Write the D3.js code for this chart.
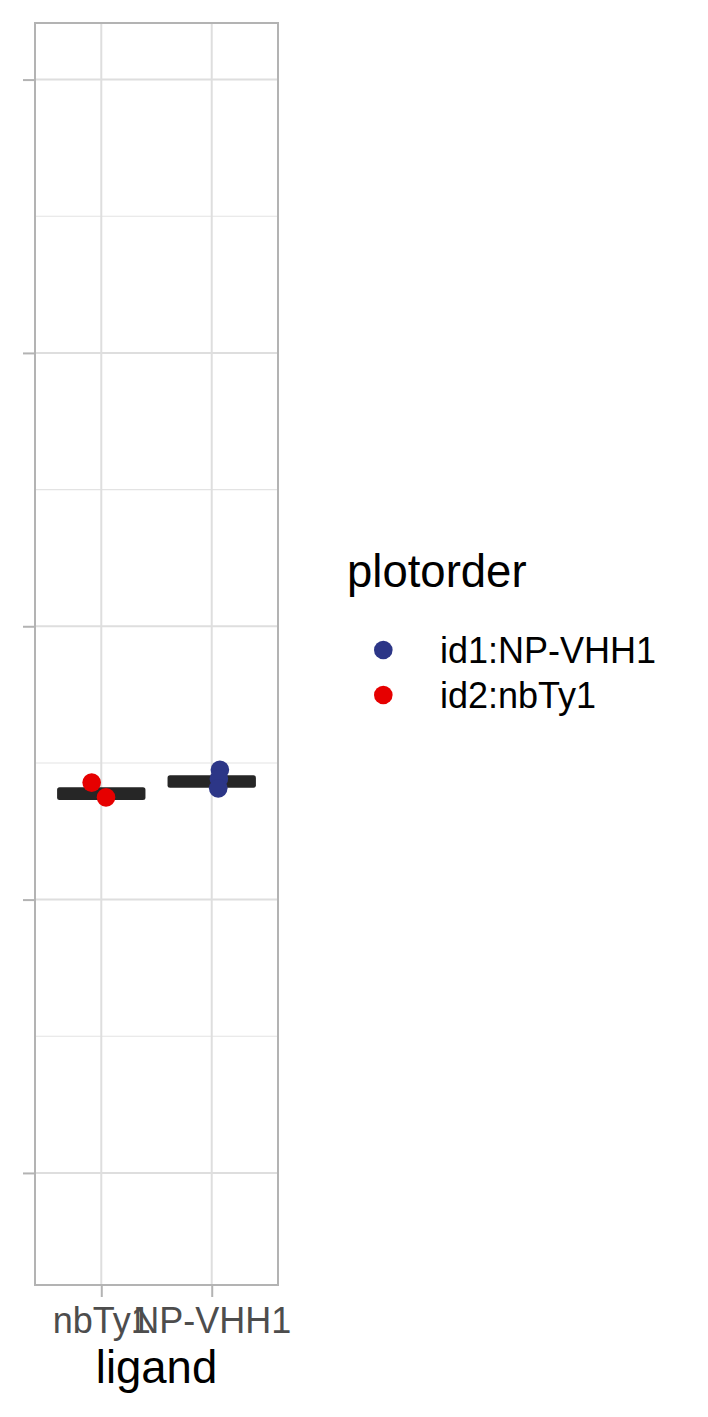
<!DOCTYPE html>
<html>
  <head>
    <meta charset="utf-8">
    <script src="https://d3js.org/d3.v7.min.js"></script>
    <style>
      body { margin: 0; background: #fff; }
      text { font-family: "Liberation Sans", Arial, sans-serif; }
    </style>
  </head>
  <body>
    <script type="text/javascript">
      // categories on the x axis
      var ligands = ["nbTy1", "NP-VHH1"];
      // summary value (bar) per ligand
      var barValues = [-0.612, -0.568];
      // individual points: ligand, jitter offset (in category steps), value, group
      var pointLigand = ["nbTy1", "nbTy1", "NP-VHH1", "NP-VHH1", "NP-VHH1"];
      var pointJitter = [-0.087, 0.043, 0.074, 0.065, 0.059];
      var pointValue = [-0.572, -0.626, -0.525, -0.558, -0.593];
      var pointGroup = ["id2:nbTy1", "id2:nbTy1", "id1:NP-VHH1", "id1:NP-VHH1", "id1:NP-VHH1"];
      // legend entries
      var groups = ["id1:NP-VHH1", "id2:nbTy1"];
      var groupColors = ["#2C3687", "#E60000"];
      // y ticks (labels are hidden in the original)
      var yTicks = [-2, -1, 0, 1, 2];
      var yMinor = [-1.5, -0.5, 0.5, 1.5];

      var W = 708, H = 1417;
      var panel = {left: 35, right: 278, top: 23, bottom: 1285};

      var svg = d3.select("body").append("svg")
          .attr("width", W)
          .attr("height", H);

      var x = d3.scalePoint()
          .domain(ligands)
          .range([panel.left, panel.right])
          .padding(0.6);
      var step = x.step();

      var y = d3.scaleLinear()
          .domain([-2.41, 2.207])
          .range([panel.bottom, panel.top]);

      var color = d3.scaleOrdinal().domain(groups).range(groupColors);

      // grid
      var grid = svg.append("g");
      grid.selectAll(".minor")
          .data(yMinor)
          .enter().append("line")
          .attr("x1", panel.left).attr("x2", panel.right)
          .attr("y1", function (d) { return y(d); })
          .attr("y2", function (d) { return y(d); })
          .attr("stroke", "#e3e3e3")
          .attr("stroke-width", 1.1);
      grid.selectAll(".major")
          .data(yTicks)
          .enter().append("line")
          .attr("x1", panel.left).attr("x2", panel.right)
          .attr("y1", function (d) { return y(d); })
          .attr("y2", function (d) { return y(d); })
          .attr("stroke", "#dedede")
          .attr("stroke-width", 2);
      grid.selectAll(".vmajor")
          .data(ligands)
          .enter().append("line")
          .attr("y1", panel.top).attr("y2", panel.bottom)
          .attr("x1", function (d) { return x(d); })
          .attr("x2", function (d) { return x(d); })
          .attr("stroke", "#dedede")
          .attr("stroke-width", 2);

      // summary bars
      var barH = 12.7;
      svg.selectAll(".bar")
          .data(ligands)
          .enter().append("rect")
          .attr("x", function (d) { return x(d) - step * 0.4; })
          .attr("width", step * 0.8)
          .attr("y", function (d, i) { return y(barValues[i]) - barH / 2; })
          .attr("height", barH)
          .attr("rx", 2.5)
          .attr("fill", "#262626");

      // points
      svg.selectAll(".pt")
          .data(pointValue)
          .enter().append("circle")
          .attr("cx", function (d, i) { return x(pointLigand[i]) + pointJitter[i] * step; })
          .attr("cy", function (d) { return y(d); })
          .attr("r", 9.3)
          .attr("fill", function (d, i) { return color(pointGroup[i]); });

      // panel border
      svg.append("rect")
          .attr("x", panel.left).attr("y", panel.top)
          .attr("width", panel.right - panel.left)
          .attr("height", panel.bottom - panel.top)
          .attr("fill", "none")
          .attr("stroke", "#b3b3b3")
          .attr("stroke-width", 2);

      // y axis: ticks only
      var yAxis = svg.append("g")
          .attr("transform", "translate(" + panel.left + ",0)")
          .call(d3.axisLeft(y).tickValues(yTicks).tickSize(12).tickFormat(""));
      yAxis.select(".domain").remove();
      yAxis.selectAll("line").attr("stroke", "#b3b3b3").attr("stroke-width", 2);

      // x axis
      var xAxis = svg.append("g")
          .attr("transform", "translate(0," + panel.bottom + ")")
          .call(d3.axisBottom(x).tickSize(12).tickPadding(15));
      xAxis.select(".domain").remove();
      xAxis.selectAll("line").attr("stroke", "#b3b3b3").attr("stroke-width", 2);
      xAxis.selectAll("text")
          .attr("font-family", "Liberation Sans, Arial, sans-serif")
          .attr("font-size", 36)
          .attr("fill", "#4d4d4d")
          .attr("dy", 0)
          .attr("y", 47.5);

      svg.append("text")
          .attr("x", (panel.left + panel.right) / 2)
          .attr("y", 1383)
          .attr("text-anchor", "middle")
          .attr("font-size", 45.5)
          .attr("fill", "#000")
          .text("ligand");

      // legend
      var legend = svg.append("g");
      legend.append("text")
          .attr("x", 347)
          .attr("y", 587)
          .attr("font-size", 45.5)
          .attr("fill", "#000")
          .text("plotorder");
      var items = legend.selectAll(".item")
          .data(groups)
          .enter().append("g")
          .attr("transform", function (d, i) { return "translate(0," + (650 + i * 45) + ")"; });
      items.append("circle")
          .attr("cx", 383.3)
          .attr("cy", 0)
          .attr("r", 9.3)
          .attr("fill", function (d) { return color(d); });
      items.append("text")
          .attr("x", 440)
          .attr("y", 12.5)
          .attr("font-size", 36)
          .attr("fill", "#000")
          .text(function (d) { return d; });
    </script>
  </body>
</html>
